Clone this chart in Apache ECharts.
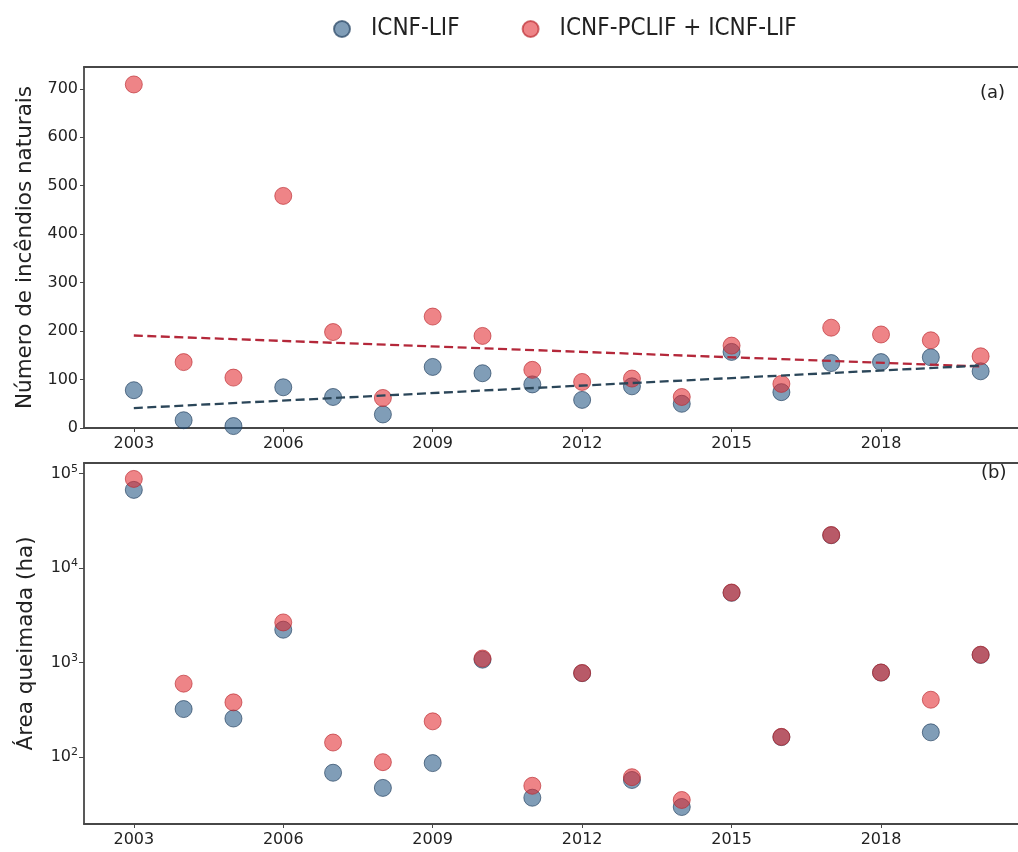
<!DOCTYPE html>
<html>
<head>
<meta charset="utf-8">
<script src="https://cdn.jsdelivr.net/npm/echarts@6/dist/echarts.min.js"></script>
<style>
  html, body { margin: 0; padding: 0; background: #ffffff; }
  #chart { width: 1018px; height: 852px; }
</style>
</head>
<body>
<div id="chart"></div>
<script>
// Years of record
const years = [2003, 2004, 2005, 2006, 2007, 2008, 2009, 2010, 2011,
               2012, 2013, 2014, 2015, 2016, 2017, 2018, 2019, 2020];

// (a) number of natural fires
const firesLIF = [78, 16, 4, 84, 64, 28, 126, 113, 90, 58, 86, 50, 157, 74, 134, 136, 146, 117];
const firesAll = [709, 136, 104, 479, 198, 62, 230, 190, 120, 95, 102, 64, 170, 91, 207, 193, 181, 148];

// (b) burnt area (ha)
const areaLIF = [67000, 321, 255, 2220, 68, 47, 86, 1070, 37, 770, 57, 29.5, 5450, 162, 22200, 780, 182, 1200];
const areaAll = [87500, 596, 378, 2650, 142, 88, 238, 1100, 49.5, 773, 61, 35, 5500, 163, 22300, 783, 403, 1208];

// Tick values
const yearTicks = [2003, 2006, 2009, 2012, 2015, 2018];
const countTicks = [0, 100, 200, 300, 400, 500, 600, 700];
const areaTicks = [100, 1000, 10000, 100000];
const areaMinorTicks = [20, 30, 40, 50, 60, 70, 80, 90,
                        200, 300, 400, 500, 600, 700, 800, 900,
                        2000, 3000, 4000, 5000, 6000, 7000, 8000, 9000,
                        20000, 30000, 40000, 50000, 60000, 70000, 80000, 90000];

const seriesNames = ['ICNF-LIF', 'ICNF-PCLIF + ICNF-LIF'];

const BLUE = 'rgba(35, 85, 130, 0.72)';
const BLUE_EDGE = 'rgba(35, 65, 95, 0.85)';
const RED = 'rgba(225, 42, 46, 0.72)';
const RED_EDGE = 'rgba(185, 38, 44, 0.8)';
const TEXT = '#222222';
const SPINE = '#474747';
const FONT = "'DejaVu Sans', sans-serif";

const X_MIN = 2002;
const X_MAX = 2020.75;

function median(arr) {
  const s = arr.slice().sort((a, b) => a - b);
  const m = s.length >> 1;
  return s.length % 2 ? s[m] : (s[m - 1] + s[m]) / 2;
}

// Theil–Sen estimator: median of pairwise slopes, intercept from medians
function theilSen(xs, ys) {
  const slopes = [];
  for (let i = 0; i < xs.length; i++) {
    for (let j = i + 1; j < xs.length; j++) {
      if (xs[j] !== xs[i]) slopes.push((ys[j] - ys[i]) / (xs[j] - xs[i]));
    }
  }
  const slope = median(slopes);
  const intercept = median(ys) - slope * median(xs);
  return { slope, intercept };
}

function trendLine(ys) {
  const fit = theilSen(years, ys);
  const x0 = years[0], x1 = years[years.length - 1];
  return [[x0, fit.intercept + fit.slope * x0], [x1, fit.intercept + fit.slope * x1]];
}

const pairs = (ys) => years.map((y, i) => [y, ys[i]]);

// 10^n labels with a raised exponent
const powLabel = (v) => '{b|10}{s|' + Math.round(Math.log10(v)) + '}';

const spineLine = { show: true, lineStyle: { color: SPINE, width: 1.8 } };

const xAxisBottom = (gridIndex) => ({
  type: 'value',
  gridIndex,
  min: X_MIN,
  max: X_MAX,
  position: 'bottom',
  axisLine: spineLine,
  axisTick: { show: true, customValues: yearTicks, length: 4, lineStyle: { color: SPINE, width: 1 } },
  axisLabel: { customValues: yearTicks, color: TEXT, fontSize: 16, fontFamily: FONT, margin: 8,
               formatter: (v) => String(v) },
  splitLine: { show: false }
});

// Top frame line of each panel (no right frame line: the panel runs to the page edge)
const xAxisTop = (gridIndex) => ({
  type: 'value',
  gridIndex,
  min: X_MIN,
  max: X_MAX,
  position: 'top',
  axisLine: spineLine,
  axisTick: { show: false },
  axisLabel: { show: false },
  splitLine: { show: false }
});

const markerSize = 17;

const option = {
  animation: false,
  backgroundColor: '#ffffff',
  legend: {
    data: seriesNames,
    left: 328,
    top: 12,
    icon: 'circle',
    itemWidth: 16,
    itemHeight: 16,
    itemGap: 62,
    textStyle: { color: TEXT, fontSize: 24, fontFamily: "'DejaVu Sans Condensed', 'Liberation Sans Narrow', sans-serif", padding: [0, 0, 0, 16] }
  },
  grid: [
    { left: 84, top: 67, right: 0, height: 361 },
    { left: 84, top: 463, right: 0, height: 361 }
  ],
  xAxis: [xAxisBottom(0), xAxisBottom(1), xAxisTop(0), xAxisTop(1)],
  yAxis: [
    {
      type: 'value',
      gridIndex: 0,
      min: 0,
      max: 745,
      name: 'Número de incêndios naturais',
      nameLocation: 'middle',
      nameGap: 47,
      nameTextStyle: { color: TEXT, fontSize: 21.5, fontFamily: FONT },
      axisLine: spineLine,
      axisTick: { show: true, customValues: countTicks, length: 4, lineStyle: { color: SPINE, width: 1 } },
      axisLabel: { customValues: countTicks, color: TEXT, fontSize: 16, fontFamily: FONT, margin: 6 },
      splitLine: { show: false }
    },
    {
      type: 'log',
      logBase: 10,
      gridIndex: 1,
      min: 19.5,
      max: 129000,
      name: 'Área queimada (ha)',
      nameLocation: 'middle',
      nameGap: 47,
      nameTextStyle: { color: TEXT, fontSize: 21.5, fontFamily: FONT },
      axisLine: spineLine,
      axisTick: { show: true, customValues: areaTicks, length: 5, lineStyle: { color: SPINE, width: 1 } },
      axisLabel: {
        customValues: areaTicks, color: TEXT, fontFamily: FONT, margin: 6, formatter: powLabel,
        rich: {
          b: { fontSize: 16, fontFamily: FONT, color: TEXT, lineHeight: 20 },
          s: { fontSize: 11, fontFamily: FONT, color: TEXT, lineHeight: 20, verticalAlign: 'top' }
        }
      },
      splitLine: { show: false }
    },
    {
      type: 'log',
      logBase: 10,
      gridIndex: 1,
      min: 19.5,
      max: 129000,
      axisLine: { show: false },
      axisTick: { show: true, customValues: areaMinorTicks, length: 2.5, lineStyle: { color: SPINE, width: 0.8 } },
      axisLabel: { show: false },
      splitLine: { show: false }
    }
  ],
  graphic: [
    { type: 'text', left: 980, top: 84, style: { text: '(a)', fontSize: 18, fontFamily: FONT, fill: TEXT } },
    { type: 'text', left: 981, top: 464, style: { text: '(b)', fontSize: 18, fontFamily: FONT, fill: TEXT } }
  ],
  series: [
    {
      name: seriesNames[0], type: 'scatter', xAxisIndex: 0, yAxisIndex: 0,
      symbolSize: markerSize, data: pairs(firesLIF), z: 2,
      itemStyle: { color: BLUE, borderColor: BLUE_EDGE, borderWidth: 1 }
    },
    {
      name: seriesNames[1], type: 'scatter', xAxisIndex: 0, yAxisIndex: 0,
      symbolSize: markerSize, data: pairs(firesAll), z: 3,
      itemStyle: { color: RED, borderColor: RED_EDGE, borderWidth: 1 }
    },
    {
      name: seriesNames[0], type: 'scatter', xAxisIndex: 1, yAxisIndex: 1,
      symbolSize: markerSize, data: pairs(areaLIF), z: 2,
      itemStyle: { color: BLUE, borderColor: BLUE_EDGE, borderWidth: 1 }
    },
    {
      name: seriesNames[1], type: 'scatter', xAxisIndex: 1, yAxisIndex: 1,
      symbolSize: markerSize, data: pairs(areaAll), z: 3,
      itemStyle: { color: RED, borderColor: RED_EDGE, borderWidth: 1 }
    },
    {
      name: 'trend-all', type: 'line', xAxisIndex: 0, yAxisIndex: 0, z: 4,
      data: trendLine(firesAll), symbol: 'none', silent: true,
      lineStyle: { color: '#b4283a', width: 2.3, type: [9, 4.5] }
    },
    {
      name: 'trend-lif', type: 'line', xAxisIndex: 0, yAxisIndex: 0, z: 5,
      data: trendLine(firesLIF), symbol: 'none', silent: true,
      lineStyle: { color: '#2b4659', width: 2.3, type: [9, 4.5] }
    }
  ]
};

const chart = echarts.init(document.getElementById('chart'), null, { renderer: 'canvas' });
chart.setOption(option);
</script>
</body>
</html>
